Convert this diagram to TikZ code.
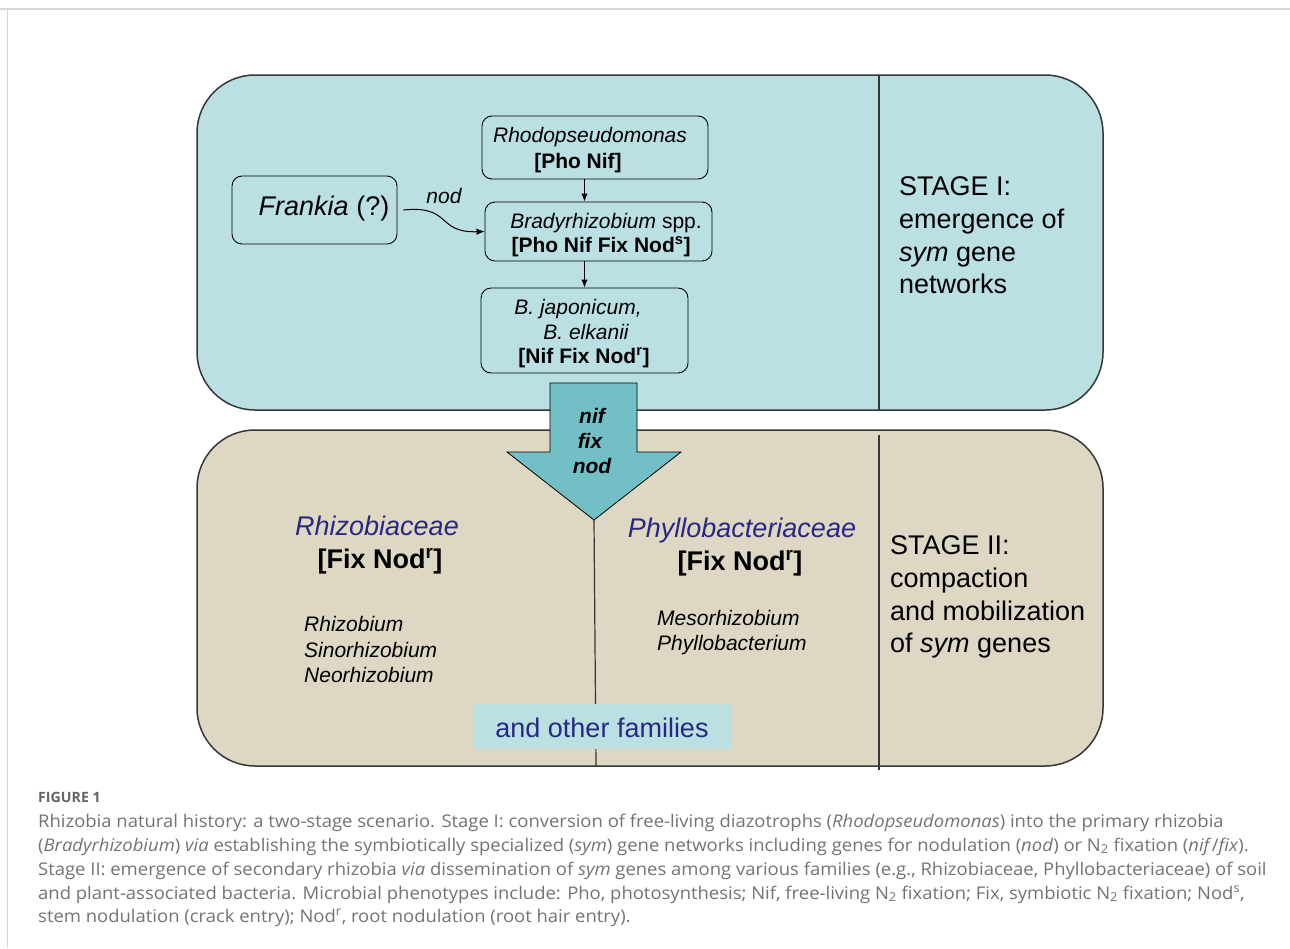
\documentclass[tikz,border=0pt]{standalone}
\usepackage{fontspec}
\setmainfont{Liberation Sans}
\newfontfamily\capfont{Open Sans}
\usetikzlibrary{arrows.meta}
\definecolor{topfill}{RGB}{186,224,227}
\definecolor{botfill}{RGB}{221,215,196}
\definecolor{arrfill}{RGB}{114,191,197}
\definecolor{famblue}{RGB}{40,40,128}
\definecolor{capgray}{RGB}{115,115,115}
\definecolor{figgray}{RGB}{100,100,100}
\definecolor{framegray}{RGB}{215,215,215}
\definecolor{edgegray}{RGB}{55,55,55}
\newcommand{\capline}[1]{\scalebox{1.055}[1]{#1}}
\begin{document}
\begin{tikzpicture}[x=1pt,y=-1pt,
  stagebox/.style={draw=edgegray, line width=1.5pt, rounded corners=58pt},
  spbox/.style={draw=black, line width=0.9pt, rounded corners=10pt, inner sep=0pt},
  divider/.style={draw=edgegray, line width=1.2pt},
  flow/.style={-{Latex[length=8pt,width=6.5pt]}, line width=1pt},
  txt/.style={inner sep=0pt, anchor=base, font=\fontsize{21}{25}\selectfont},
  txtl/.style={txt, anchor=base west},
  big/.style={inner sep=0pt, anchor=base, font=\fontsize{27}{33}\selectfont},
  bigl/.style={big, anchor=base west},
  captxt/.style={inner sep=0pt, anchor=base west, text=capgray, font=\capfont\fontsize{17.5}{24}\selectfont},
]
\useasboundingbox (0,0) rectangle (1290,948);
\fill[white] (0,0) rectangle (1290,948);
% frame
\draw[framegray, line width=1.6pt] (0,9) -- (1290,9);
\draw[framegray, line width=1pt] (7,9) -- (7,948);

% stage boxes
\draw[stagebox, fill=topfill] (197,75) rectangle (1103,410);
\draw[divider] (879,75) -- (879,411);
\draw[stagebox, fill=botfill] (197,430) rectangle (1103,766);
\draw[divider] (879,435) -- (879,770);

% middle line
\coordinate (tip) at (594,520);
\coordinate (midbot) at (596,766);
\draw[divider] (tip) -- (midbot);

% big arrow
\draw[fill=arrfill, draw=black, line width=0.8pt]
  (550,383) -- (637,383) -- (637,452) -- (681,452) -- (tip) -- (507,452) -- (550,452) -- cycle;
\node[txt, font=\fontsize{21}{25}\selectfont\bfseries\itshape] at (592,423) {nif};
\node[txt, font=\fontsize{21}{25}\selectfont\bfseries\itshape] at (590,448) {fix};
\node[txt, font=\fontsize{21}{25}\selectfont\bfseries\itshape] at (592,473) {nod};

% species boxes
\node[spbox, minimum width=226pt, minimum height=63pt] (rhodo) at (595,147.5) {};
\node[spbox, minimum width=227pt, minimum height=59pt] (brady) at (598.5,231.5) {};
\node[spbox, minimum width=207pt, minimum height=85pt] (jap) at (584.5,330.5) {};
\node[spbox, minimum width=165pt, minimum height=68pt] (frankia) at (314.5,210) {};

\node[txt] at (590,142) {\itshape Rhodopseudomonas};
\node[txt] at (578,168) {\bfseries [Pho Nif]};
\node[txt] at (606,228) {\itshape Bradyrhizobium\upshape\ spp.};
\node[txt] at (601,252) {\bfseries [Pho Nif Fix Nod\textsuperscript{s}]};
\node[txt] at (578,314) {\itshape B. japonicum,};
\node[txt] at (586,339) {\itshape B. elkanii};
\node[txt] at (584,363) {\bfseries [Nif Fix Nod\textsuperscript{r}]};
\node[big] at (324,215) {\itshape Frankia\upshape\ (?)};

% connectors
\draw[flow] (rhodo.south -| jap.north) -- (brady.north -| jap.north);
\draw[flow] (brady.south -| jap.north) -- (jap.north);
\draw[flow] ([xshift=6pt]frankia.east) .. controls (452,205) and (436,233) .. (brady.west);
\node[txt] at (444,203) {\itshape nod};

% stage I text
\node[bigl] at (899,195) {STAGE I:};
\node[bigl] at (899,228) {emergence of};
\node[bigl] at (899,261) {\itshape sym\upshape\ gene};
\node[bigl] at (899,293) {networks};

% stage II text
\node[bigl] at (890,554) {STAGE II:};
\node[bigl] at (890,587) {compaction};
\node[bigl] at (890,620) {and mobilization};
\node[bigl] at (890,652) {of \itshape sym\upshape\ genes};

% families
\node[big, text=famblue] at (377,535) {\itshape Rhizobiaceae};
\node[big] at (380,568) {\bfseries [Fix Nod\textsuperscript{r}]};
\node[txtl] at (304,631) {\itshape Rhizobium};
\node[txtl] at (304,657) {\itshape Sinorhizobium};
\node[txtl] at (304,682) {\itshape Neorhizobium};

\node[big, text=famblue] at (742,537) {\itshape Phyllobacteriaceae};
\node[big] at (740,570) {\bfseries [Fix Nod\textsuperscript{r}]};
\node[txtl] at (657,625) {\itshape Mesorhizobium};
\node[txtl] at (657,650) {\itshape Phyllobacterium};

\node[fill=topfill, minimum width=258pt, minimum height=45pt, inner sep=0pt] (other) at (602,726.5) {};
\node[big, text=famblue] at (602,737) {and other families};

% caption
\node[inner sep=0pt, anchor=base west, text=figgray, font=\capfont\bfseries\fontsize{14.2}{16}\selectfont] at (38,802.5) {FIGURE 1};
\node[captxt] at (38,827) {\capline{Rhizobia natural history: a two-stage scenario. Stage I: conversion of free-living diazotrophs (\textit{Rhodopseudomonas}) into the primary rhizobia}};
\node[captxt] at (38,851) {\capline{(\textit{Bradyrhizobium}) \textit{via} establishing the symbiotically specialized (\textit{sym}) gene networks including genes for nodulation (\textit{nod}) or N\textsubscript{2} fixation (\textit{nif}/\textit{fix}).}};
\node[captxt] at (38,875) {\capline{Stage II: emergence of secondary rhizobia \textit{via} dissemination of \textit{sym} genes among various families (e.g., Rhizobiaceae, Phyllobacteriaceae) of soil}};
\node[captxt] at (38,899) {\capline{and plant-associated bacteria. Microbial phenotypes include: Pho, photosynthesis; Nif, free-living N\textsubscript{2} fixation; Fix, symbiotic N\textsubscript{2} fixation; Nod\textsuperscript{s},}};
\node[captxt] at (38,922) {\capline{stem nodulation (crack entry); Nod\textsuperscript{r}, root nodulation (root hair entry).}};
\end{tikzpicture}
\end{document}
